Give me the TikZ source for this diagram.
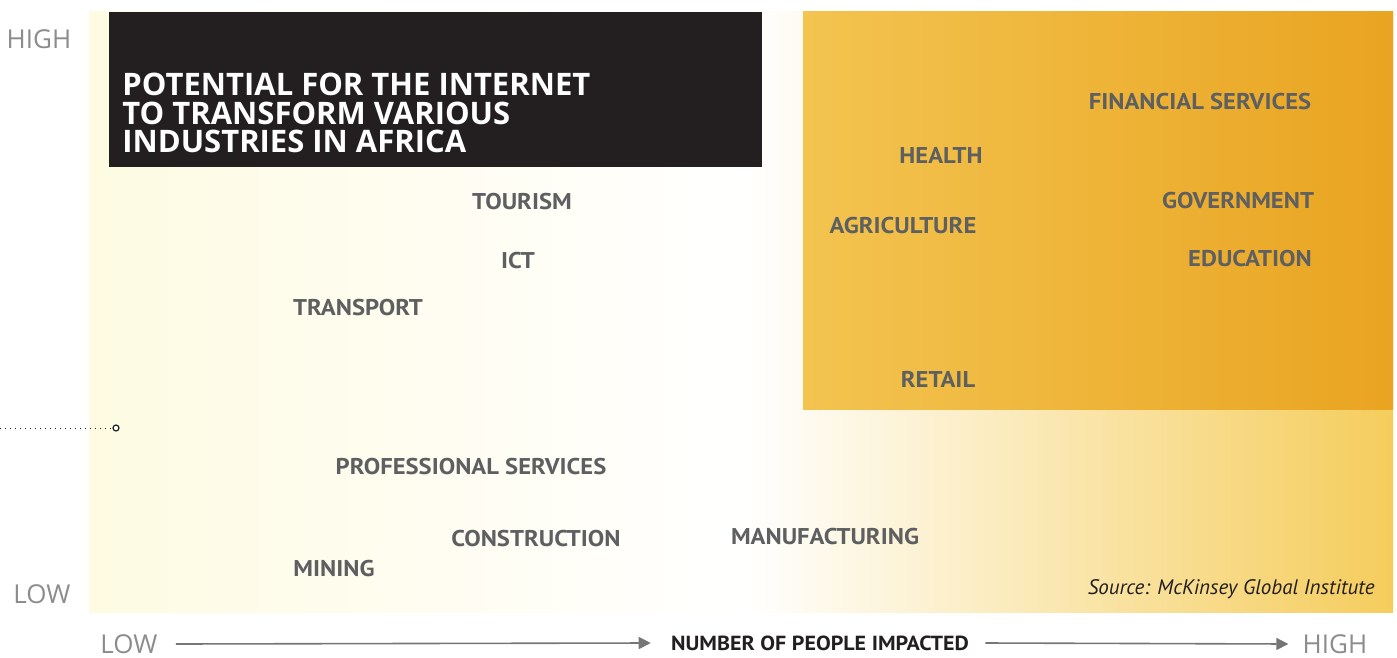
\documentclass[tikz,border=0pt]{standalone}
\usepackage{fontspec}
\setmainfont{Open Sans}
\newfontfamily\labfont[FakeStretch=1.08]{PT Sans}
\newfontfamily\srcfont{PT Sans}
\usetikzlibrary{arrows.meta}

\definecolor{paleyel}{HTML}{FEFBE2}
\definecolor{midyel}{HTML}{F5CD5C}
\definecolor{boxleft}{HTML}{F3C450}
\definecolor{boxright}{HTML}{E9A421}
\definecolor{titleblack}{HTML}{231F20}
\definecolor{labgray}{HTML}{5E5F61}
\definecolor{axisgray}{HTML}{8C8C8C}
\definecolor{arrowgray}{HTML}{767676}

\tikzset{
  lab/.style={font=\labfont\bfseries\fontsize{11.4}{12}\selectfont, text=labgray, inner sep=0pt},
  axislab/.style={font=\fontsize{13}{13}\selectfont, text=axisgray, inner sep=0pt},
}

\begin{document}
\begin{tikzpicture}[x=0.5pt,y=-0.5pt,>={Triangle[length=6pt,width=6pt]}]
\useasboundingbox (0,0) rectangle (1397,658);

%Hintergrund
\shade[left color=paleyel, right color=white] (89,12) rectangle (745,612);
\shade[left color=white, right color=midyel] (745,12) rectangle (1393,612);
\shade[left color=boxleft, right color=boxright] (803,12) rectangle (1393,409);
\fill[titleblack] (109,12) rectangle (762,167);

%Titel
\node[anchor=north west, inner sep=0pt, align=left, text=white,
      font=\bfseries\fontsize{15.5}{14.25}\selectfont] (title) at (122,73)
  {POTENTIAL FOR THE INTERNET\\TO TRANSFORM VARIOUS\\INDUSTRIES IN AFRICA};

%Achsen
\node[axislab] (yhigh) at (39,39) {HIGH};
\node[axislab] (ylow) at (42,594) {LOW};
\node[axislab] (xlow) at (129,644) {LOW};
\node[axislab] (xhigh) at (1335,644) {HIGH};
\node[lab, text=titleblack, font=\labfont\bfseries\fontsize{10.2}{10.2}\selectfont] (xlabel) at (820,643) {NUMBER OF PEOPLE IMPACTED};
\draw[->, arrowgray, line width=0.8pt] ([xshift=9pt]xlow.east) -- ([xshift=-10pt]xlabel.west);
\draw[->, arrowgray, line width=0.8pt] ([xshift=8pt]xlabel.east) -- ([xshift=-7pt]xhigh.west);

%Markierung
\node[circle, draw=titleblack, fill=white, line width=0.6pt, inner sep=0pt, minimum size=3pt] (dot) at (116,428) {};
\coordinate (dotstart) at (0,428);
\draw[dotted, titleblack, line width=0.5pt] (dotstart) -- (dot);

%Branchen
\node[lab] (fin) at (1200,102) {FINANCIAL SERVICES};
\node[lab] (health) at (941,155) {HEALTH};
\node[lab] (gov) at (1238,201) {GOVERNMENT};
\node[lab] (agri) at (903,226) {AGRICULTURE};
\node[lab] (edu) at (1250,259) {EDUCATION};
\node[lab] (retail) at (938,379) {RETAIL};
\node[lab] (tourism) at (522,202) {TOURISM};
\node[lab] (ict) at (518,261) {ICT};
\node[lab] (transport) at (358,308) {TRANSPORT};
\node[lab] (prof) at (471,467) {PROFESSIONAL SERVICES};
\node[lab] (constr) at (536,539) {CONSTRUCTION};
\node[lab] (manuf) at (825,537) {MANUFACTURING};
\node[lab] (mining) at (334,569) {MINING};

%Quelle
\node[anchor=east, inner sep=0pt, text=titleblack, font=\srcfont\itshape\fontsize{10.5}{10.5}\selectfont] (source) at (1375,589) {Source: McKinsey Global Institute};

\end{tikzpicture}
\end{document}
